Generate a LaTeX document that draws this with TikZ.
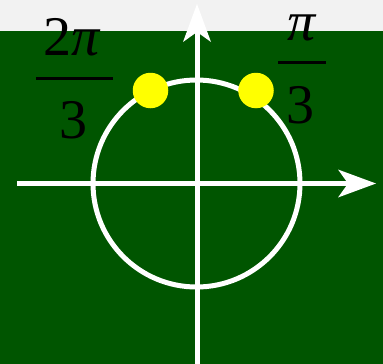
\documentclass[tikz,border=0pt]{standalone}
\usepackage{fontspec}
\setmainfont{Liberation Serif}
\usetikzlibrary{arrows.meta}
\definecolor{bggreen}{RGB}{0,85,0}
\definecolor{bggray}{RGB}{242,242,242}
\definecolor{dotyellow}{RGB}{255,255,0}
\begin{document}
\begin{tikzpicture}[x=1pt,y=-1pt,
  axis/.style={draw=white,line width=5pt,-{Stealth[length=38pt,width=28pt,inset=10pt,line width=0pt]}},
  ring/.style={draw=white,line width=5pt},
  dotmark/.style={circle,fill=dotyellow,minimum size=35.5pt,inner sep=0pt},
  lbl/.style={font=\fontsize{56}{60}\selectfont,text=black,inner sep=0pt,anchor=base},
  fracbar/.style={draw=black,line width=3pt}]
\useasboundingbox (0,0) rectangle (383,364);
\fill[bggreen] (0,0) rectangle (383,364);
\fill[bggray] (0,0) rectangle (383,31);
\coordinate (xs) at (17,183.5);
\coordinate (xe) at (376,183.5);
\coordinate (ys) at (197,364);
\coordinate (ye) at (197,4);
\draw[axis] (xs) -- (xe);
\draw[axis] (ys) -- (ye);
\coordinate (o) at (196.5,183.5);
\draw[ring] (o) circle[radius=103.5];
\node[dotmark] (d1) at (150.5,90.5) {};
\node[dotmark] (d2) at (256,90.5) {};
\node[lbl] (n1) at (72,55) {2{\itshape π}};
\draw[fracbar] (36,78) -- (113,78);
\node[lbl] (m1) at (73.5,138) {3};
\node[lbl] (n2) at (301.5,40) {{\itshape π}};
\draw[fracbar] (278,62) -- (326,62);
\node[lbl] (m2) at (300.5,123) {3};
\end{tikzpicture}
\end{document}
